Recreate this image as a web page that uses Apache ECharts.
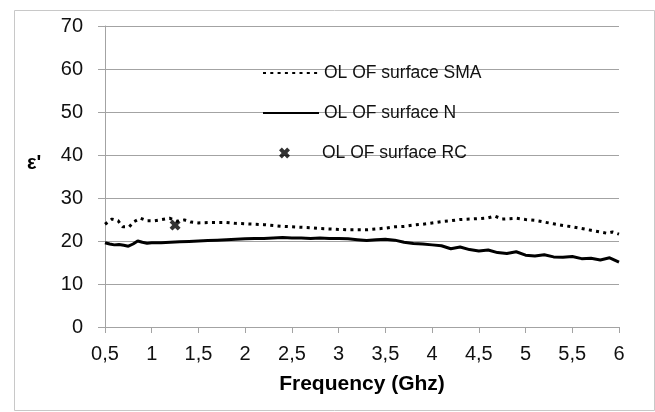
<!DOCTYPE html>
<html>
<head>
<meta charset="utf-8">
<script src="https://cdn.jsdelivr.net/npm/echarts@6/dist/echarts.min.js"></script>
<style>
html,body{margin:0;padding:0;background:#fff;}
#c{width:655px;height:412px;}
</style>
</head>
<body>
<div id="c"></div>
<script>
// ---- data ----
const xTicks = [0.5, 1, 1.5, 2, 2.5, 3, 3.5, 4, 4.5, 5, 5.5, 6];
const yTicks = [0, 10, 20, 30, 40, 50, 60, 70];

const smaFreq = [0.50,0.575,0.64,0.69,0.76,0.81,0.88,0.95,1.03,1.11,1.19,1.27,1.35,1.42,1.5,1.6,1.7,1.8,1.9,2.0,2.1,2.2,2.3,2.4,2.5,2.6,2.7,2.8,2.9,3.0,3.1,3.2,3.3,3.4,3.5,3.6,3.7,3.8,3.9,4.0,4.1,4.2,4.3,4.4,4.5,4.6,4.67,4.75,4.83,4.9,5.0,5.1,5.2,5.3,5.4,5.5,5.6,5.7,5.8,5.87,5.93,6.0];
const smaVal  = [23.9,25.1,24.7,23.3,23.3,24.5,25.3,24.7,24.7,25.0,25.3,24.6,24.9,24.4,24.2,24.3,24.3,24.3,24.1,24.0,23.9,23.8,23.6,23.4,23.3,23.2,23.1,22.9,22.8,22.7,22.6,22.6,22.6,22.8,23.0,23.3,23.4,23.7,23.9,24.2,24.5,24.7,25.0,25.1,25.2,25.4,25.8,25.1,25.2,25.3,25.0,24.8,24.4,24.0,23.6,23.3,22.9,22.5,22.1,21.8,22.1,21.6];

const nFreq = [0.50,0.55,0.60,0.65,0.70,0.75,0.80,0.85,0.90,0.95,1.0,1.1,1.2,1.3,1.4,1.5,1.6,1.7,1.8,1.9,2.0,2.1,2.2,2.3,2.4,2.5,2.6,2.7,2.8,2.9,3.0,3.1,3.2,3.3,3.4,3.5,3.6,3.7,3.8,3.9,4.0,4.1,4.2,4.3,4.4,4.5,4.6,4.7,4.8,4.9,5.0,5.1,5.2,5.3,5.4,5.5,5.6,5.7,5.8,5.9,6.0];
const nVal  = [19.6,19.3,19.1,19.2,19.0,18.8,19.3,20.0,19.7,19.5,19.6,19.6,19.7,19.8,19.9,20.0,20.1,20.2,20.3,20.4,20.5,20.6,20.6,20.7,20.8,20.7,20.7,20.6,20.7,20.6,20.6,20.5,20.3,20.1,20.3,20.4,20.2,19.7,19.4,19.3,19.1,18.9,18.2,18.6,18.0,17.7,17.9,17.3,17.1,17.5,16.7,16.5,16.8,16.3,16.2,16.4,15.9,16.0,15.6,16.1,15.1];

const rcFreq = [1.25];
const rcVal  = [23.7];

const names = ['OL OF surface SMA', 'OL OF surface N', 'OL OF surface RC'];
const yName = "ε'";

// ---- chart ----
const pairs = (xs, ys) => xs.map((x, i) => [x, ys[i]]);
const FONT = "'Liberation Sans', Arial, sans-serif";
const GRID_C = '#a3a3a3';
const xSymbol = 'path://M0,2.6L2.6,0L5,2.4L7.4,0L10,2.6L7.6,5L10,7.4L7.4,10L5,7.6L2.6,10L0,7.4L2.4,5Z';
const lineLegendStyle = {opacity: 0, color: 'rgba(0,0,0,0)', borderWidth: 0};
const legendText = {fontFamily: FONT, fontSize: 17.5, color: '#111'};

const chart = echarts.init(document.getElementById('c'), null, {renderer: 'canvas'});
chart.setOption({
  animation: false,
  backgroundColor: '#fff',
  graphic: [{
    type: 'rect', left: 12, top: 8, silent: true,
    shape: {width: 640, height: 400},
    style: {fill: 'none', stroke: '#c8c8c8', lineWidth: 1}
  }],
  title: {text: yName, left: 27, top: 153, padding: 0,
    textStyle: {fontFamily: FONT, fontSize: 20, fontWeight: 'bold', color: '#000'}},
  grid: {left: 105, right: 36, top: 26, bottom: 85, containLabel: false},
  xAxis: {
    type: 'value', min: xTicks[0], max: xTicks[xTicks.length - 1], interval: 0.5,
    name: 'Frequency (Ghz)', nameLocation: 'middle', nameGap: 47,
    nameTextStyle: {fontFamily: FONT, fontSize: 21, fontWeight: 'bold', color: '#000'},
    axisLine: {show: true, lineStyle: {color: GRID_C, width: 1}},
    axisTick: {show: true, length: 6, lineStyle: {color: GRID_C}},
    splitLine: {show: false},
    axisLabel: {fontFamily: FONT, fontSize: 20, color: '#111', margin: 17,
      formatter: v => String(v).replace('.', ',')}
  },
  yAxis: {
    type: 'value', min: yTicks[0], max: yTicks[yTicks.length - 1], interval: 10,
    axisLine: {show: true, lineStyle: {color: GRID_C, width: 1}},
    axisTick: {show: true, length: 7, lineStyle: {color: GRID_C}},
    splitLine: {show: true, lineStyle: {color: GRID_C, width: 1}},
    axisLabel: {fontFamily: FONT, fontSize: 20, color: '#111', margin: 22}
  },
  legend: [
    {data: [names[0]], left: 262, top: 64, padding: 0, itemWidth: 56, itemHeight: 14,
     itemStyle: lineLegendStyle, textStyle: legendText},
    {data: [names[1]], left: 262, top: 104, padding: 0, itemWidth: 56, itemHeight: 14,
     itemStyle: lineLegendStyle, textStyle: legendText},
    {data: [names[2]], left: 279, top: 144, padding: 0, itemWidth: 11, itemHeight: 11,
     textStyle: Object.assign({}, legendText, {padding: [0, 0, 0, 27]})}
  ],
  series: [
    {name: names[0], type: 'line', data: pairs(smaFreq, smaVal), showSymbol: false, symbol: 'none',
     lineStyle: {color: '#000', width: 3, type: [3, 4.3]}, itemStyle: {color: '#000'}, z: 3},
    {name: names[1], type: 'line', data: pairs(nFreq, nVal), showSymbol: false, symbol: 'none',
     lineStyle: {color: '#000', width: 3}, itemStyle: {color: '#000'}, z: 3},
    {name: names[2], type: 'scatter', data: pairs(rcFreq, rcVal), symbol: xSymbol, symbolSize: 11,
     itemStyle: {color: '#000'}, z: 4}
  ]
});
</script>
</body>
</html>
